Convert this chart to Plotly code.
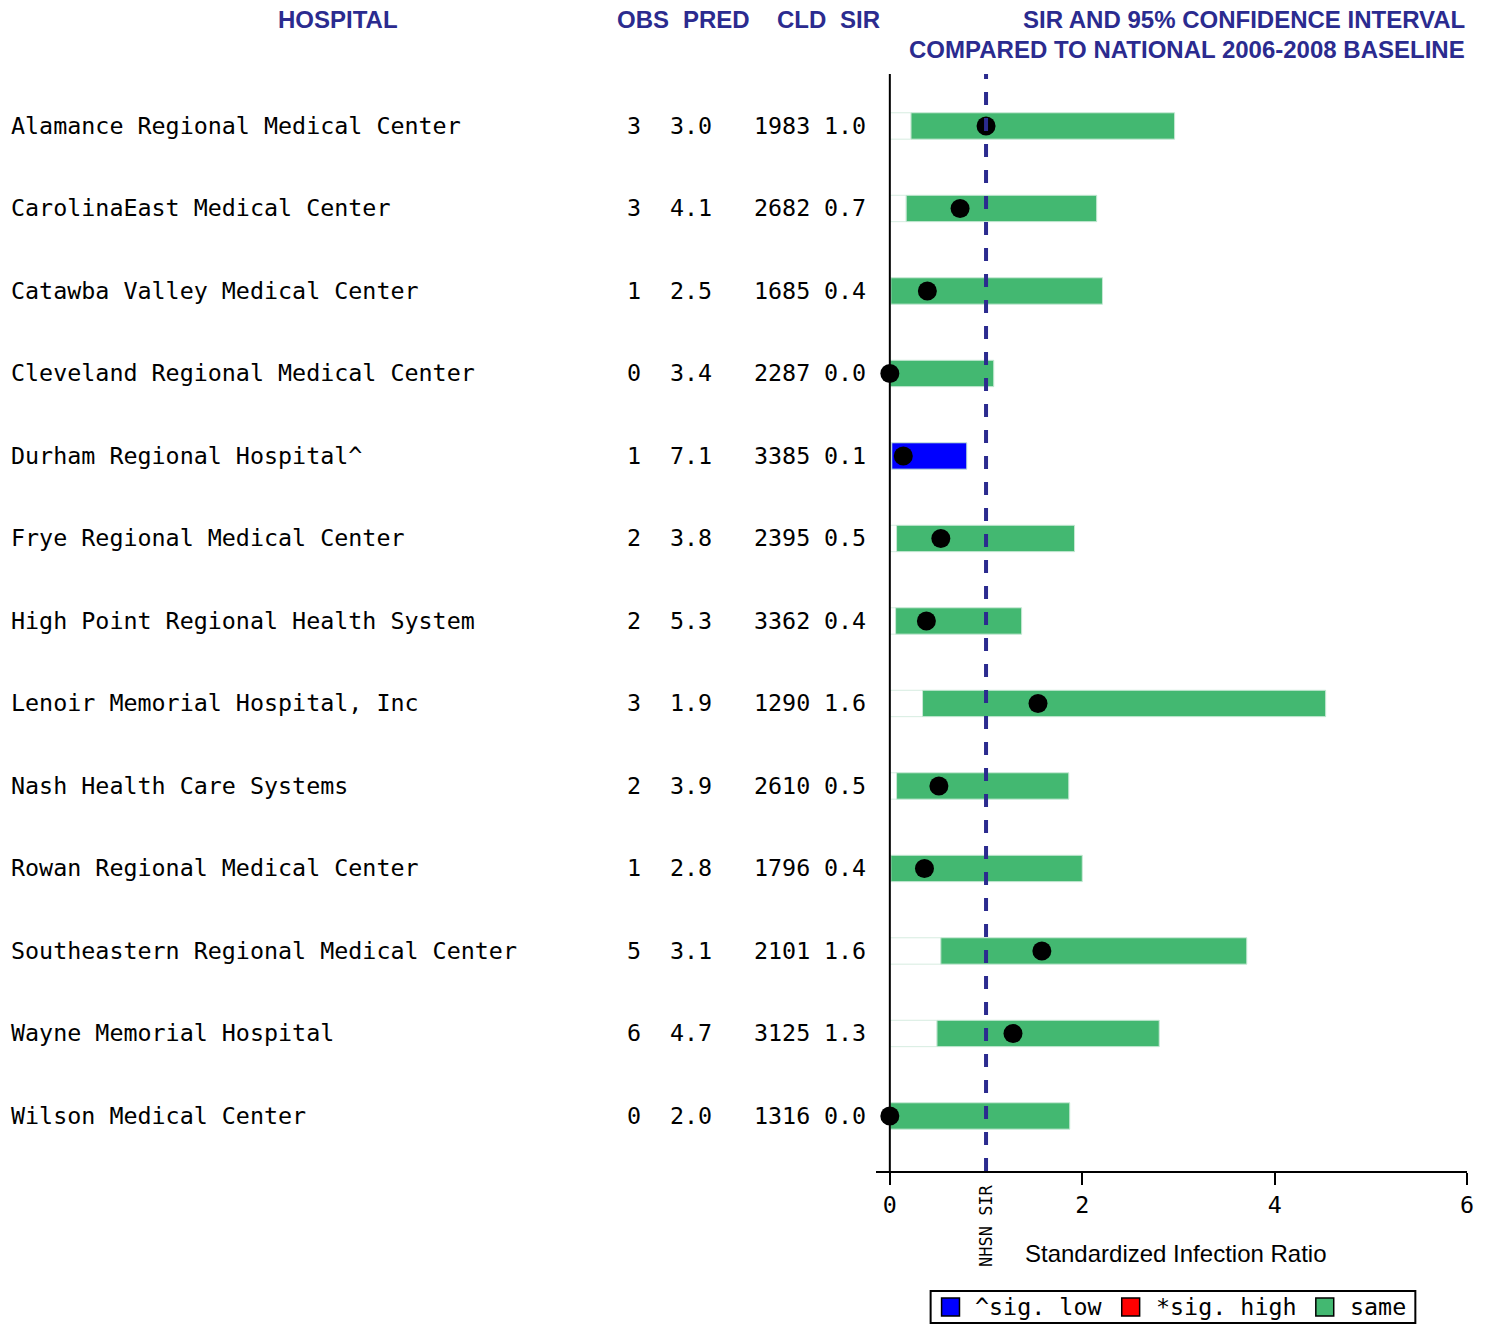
import plotly.graph_objects as go

W, H = 1496, 1325

hospitals = [
    "Alamance Regional Medical Center",
    "CarolinaEast Medical Center",
    "Catawba Valley Medical Center",
    "Cleveland Regional Medical Center",
    "Durham Regional Hospital^",
    "Frye Regional Medical Center",
    "High Point Regional Health System",
    "Lenoir Memorial Hospital, Inc",
    "Nash Health Care Systems",
    "Rowan Regional Medical Center",
    "Southeastern Regional Medical Center",
    "Wayne Memorial Hospital",
    "Wilson Medical Center",
]
obs = ["3", "3", "1", "0", "1", "2", "2", "3", "2", "1", "5", "6", "0"]
pred = ["3.0", "4.1", "2.5", "3.4", "7.1", "3.8", "5.3", "1.9", "3.9", "2.8", "3.1", "4.7", "2.0"]
cld = ["1983", "2682", "1685", "2287", "3385", "2395", "3362", "1290", "2610", "1796", "2101", "3125", "1316"]
sir_label = ["1.0", "0.7", "0.4", "0.0", "0.1", "0.5", "0.4", "1.6", "0.5", "0.4", "1.6", "1.3", "0.0"]
sir = [1.0, 0.73, 0.39, 0.0, 0.14, 0.53, 0.38, 1.54, 0.51, 0.36, 1.58, 1.28, 0.0]
ci_low = [0.22, 0.17, 0.01, 0.0, 0.02, 0.07, 0.06, 0.34, 0.07, 0.01, 0.53, 0.49, 0.0]
ci_high = [2.96, 2.15, 2.21, 1.08, 0.80, 1.92, 1.37, 4.53, 1.86, 2.00, 3.71, 2.80, 1.87]
status = ["same", "same", "same", "same", "low", "same", "same", "same", "same", "same", "same", "same", "same"]
nhsn_sir = 1.0
x_ticks = [0, 2, 4, 6]
legend_labels = ["^sig. low", "*sig. high", "same"]
legend_keys = ["low", "high", "same"]

NAVY = "#2b2b8f"
GREEN = "#43b871"
BLUE = "#0000ff"
RED = "#ff0000"
MONO = "DejaVu Sans Mono"
SANS = "Liberation Sans, Arial"
FS = 23.35

rows = list(range(len(hospitals)))
color_map = {"same": GREEN, "low": BLUE, "high": RED}

fig = go.Figure()

# white part from 0 to lower CI
fig.add_trace(go.Bar(
    orientation="h", y=rows, x=ci_low, base=[0] * len(rows), width=0.32,
    marker=dict(color="white", line=dict(color="#d6ece0", width=1)),
    showlegend=False, hoverinfo="skip",
))
# CI bars
fig.add_trace(go.Bar(
    orientation="h", y=rows, x=[h - l for l, h in zip(ci_low, ci_high)], base=ci_low, width=0.32,
    marker=dict(color=[color_map[s] for s in status], line=dict(color="#c9e9d6", width=1)),
    showlegend=False,
))
# SIR dots
fig.add_trace(go.Scatter(
    x=sir, y=rows, mode="markers", marker=dict(color="black", size=19),
    showlegend=False, cliponaxis=False,
))

x0_px, x1_px = 880, 1474
y_top_px, y_bot_px = 74, 1171
ydom = [1 - y_bot_px / H, 1 - y_top_px / H]

fig.update_layout(
    width=W, height=H, autosize=False,
    margin=dict(l=0, r=0, t=0, b=0),
    paper_bgcolor="white", plot_bgcolor="white",
    barmode="overlay",
    showlegend=False,
    xaxis=dict(
        domain=[x0_px / W, x1_px / W], range=[-0.145, 6], tickvals=x_ticks,
        showline=True, linecolor="black", linewidth=2,
        ticks="outside", ticklen=12, tickwidth=2, tickcolor="black",
        showgrid=False, zeroline=False,
        tickfont=dict(family=MONO, size=FS, color="black"),
    ),
    yaxis=dict(
        domain=ydom, range=[12.667, -0.630], showticklabels=False,
        showgrid=False, zeroline=False, showline=False,
    ),
)

# y-axis line at x=0
fig.add_shape(type="line", xref="x", yref="paper", x0=0, x1=0, y0=ydom[0], y1=ydom[1],
              line=dict(color="black", width=2))
# NHSN reference line
fig.add_shape(type="line", xref="x", yref="paper", x0=nhsn_sir, x1=nhsn_sir, y0=ydom[0], y1=ydom[1],
              line=dict(color=NAVY, width=4, dash="13px,13px"))

def ann(text, xpx, ypx, anchor="center", font=None, **kw):
    fig.add_annotation(text=text, x=xpx / W, y=1 - ypx / H, xref="paper", yref="paper",
                       xanchor=anchor, yanchor="middle", showarrow=False, font=font, **kw)

def prect(x0, y0, x1, y1, **kw):
    fig.add_shape(type="rect", xref="paper", yref="paper",
                  x0=x0 / W, x1=x1 / W, y0=1 - y1 / H, y1=1 - y0 / H, **kw)

hdr_font = dict(family=SANS, size=24, color=NAVY, weight="bold")
ann("HOSPITAL", 340, 20, font=hdr_font)
ann("OBS", 646, 20, font=hdr_font)
ann("PRED", 720, 20, font=hdr_font)
ann("CLD", 805, 20, font=hdr_font)
ann("SIR", 864, 20, font=hdr_font)
ann("SIR AND 95% CONFIDENCE INTERVAL", 1474, 20, anchor="right", font=hdr_font)
ann("COMPARED TO NATIONAL 2006-2008 BASELINE", 1474, 49, anchor="right", font=hdr_font)

row_font = dict(family=MONO, size=FS, color="black")
cols = [(hospitals, 9, "left"), (obs, 646, "right"), (pred, 717, "right"),
        (cld, 816, "right"), (sir_label, 872, "right")]
for values, xpx, anchor in cols:
    for r, v in zip(rows, values):
        fig.add_annotation(text=v, x=xpx / W, y=r, xref="paper", yref="y",
                           xanchor=anchor, yanchor="middle", showarrow=False, font=row_font)

ann("Standardized Infection Ratio", 1182, 1253, font=dict(family=SANS, size=24, color="black"))
fig.add_annotation(text="NHSN SIR", x=nhsn_sir, xref="x", y=1 - 1226 / H, yref="paper",
                   showarrow=False, textangle=-90, xanchor="center", yanchor="middle",
                   font=dict(family=MONO, size=17, color="black"))

# legend box
prect(935, 1291, 1422, 1323, line=dict(color="black", width=2), fillcolor="white")
sq_x = [946, 1127, 1322]
for key, label, sx in zip(legend_keys, legend_labels, sq_x):
    prect(sx, 1298, sx + 18, 1316, line=dict(color="black", width=1.5), fillcolor=color_map[key])
    ann(label, sx + 32, 1307, anchor="left", font=dict(family=MONO, size=FS, color="black"))

fig.write_html(
    "out.html",
    config={"displayModeBar": False, "responsive": False},
    post_script="document.body.style.margin='0px';document.body.style.overflow='hidden';"
                "document.documentElement.style.overflow='hidden';",
)
